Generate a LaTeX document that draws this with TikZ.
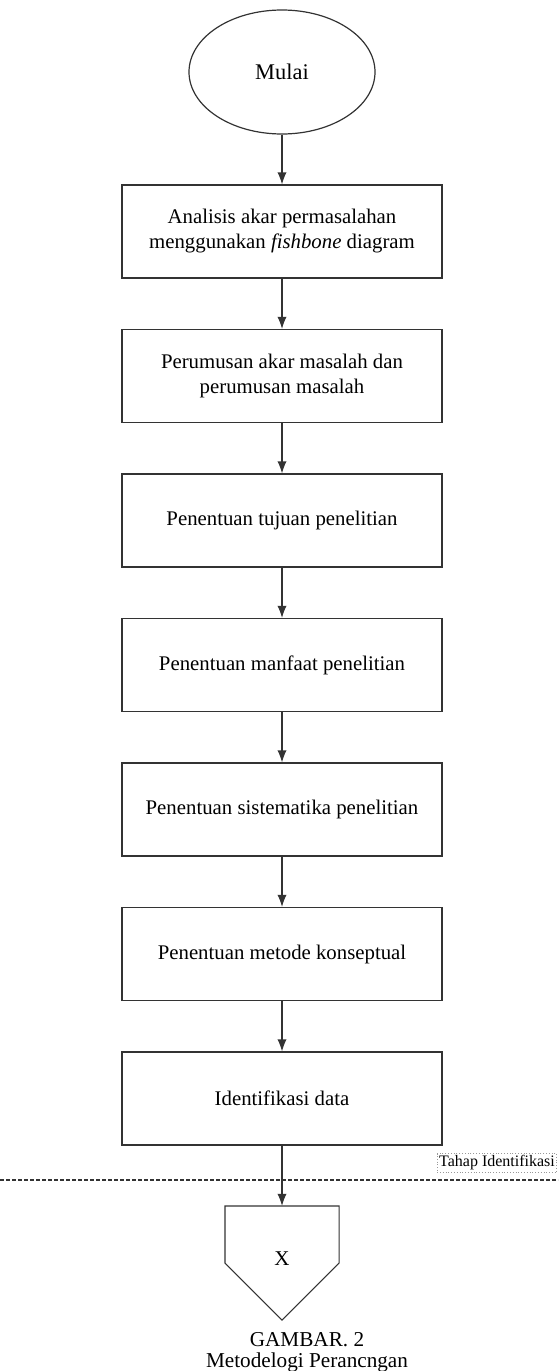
\documentclass[tikz,border=0pt]{standalone}
\usepackage{fontspec}
\setmainfont{Liberation Serif}
\usetikzlibrary{shapes.geometric,arrows.meta}
\begin{document}
\begin{tikzpicture}[x=.5pt, y=-.5pt, >={Latex[length=6pt,width=4.6pt]}, line width=.6pt,
  langkah/.style={draw=black!80, minimum width=160pt, minimum height=46.5pt, inner sep=0pt, align=center, font=\fontsize{10.4}{12.5}\selectfont},
  panah/.style={->, draw=black!80}]
\useasboundingbox (0,0) rectangle (558,1371);
\node[ellipse, draw=black!80, minimum width=93pt, minimum height=62pt, inner sep=0pt, font=\fontsize{11.2}{13}\selectfont] (mulai) at (282,72) {Mulai};
\node[langkah] (analisis) at (282,231.5) {Analisis akar permasalahan\\menggunakan \textit{fishbone} diagram};
\node[langkah] (rumusan) at (282,376) {Perumusan akar masalah dan\\perumusan masalah};
\node[langkah] (tujuan) at (282,520.5) {Penentuan tujuan penelitian};
\node[langkah] (manfaat) at (282,665) {Penentuan manfaat penelitian};
\node[langkah] (sistematika) at (282,809.5) {Penentuan sistematika penelitian};
\node[langkah] (metode) at (282,954) {Penentuan metode konseptual};
\node[langkah] (data) at (282,1098.5) {Identifikasi data};
% penghubung ke halaman berikut
\node[minimum width=56.5pt, minimum height=56.5pt, inner sep=0pt, font=\fontsize{10.5}{12}\selectfont] (lanjut) at (282,1263) {\raisebox{4pt}{X}};
\draw[black!80] (lanjut.north west)--(lanjut.north east)--(lanjut.east)--(lanjut.south)--(lanjut.west)--cycle;
\draw[panah] (mulai)--(analisis);
\draw[panah] (analisis)--(rumusan);
\draw[panah] (rumusan)--(tujuan);
\draw[panah] (tujuan)--(manfaat);
\draw[panah] (manfaat)--(sistematika);
\draw[panah] (sistematika)--(metode);
\draw[panah] (metode)--(data);
\draw[panah] (data)--(lanjut.north);
% batas tahap
\coordinate (batasA) at (0,1180);
\coordinate (batasB) at (558,1180);
\draw[black!80, dash pattern=on 2pt off 1pt] (batasA)--(batasB);
\node[draw=black!40, densely dotted, line width=.4pt, inner sep=1pt, font=\fontsize{8}{9}\selectfont] (tahap) at (497,1163) {Tahap Identifikasi};
% keterangan
\node[anchor=base, font=\fontsize{10.6}{12}\selectfont] (gambar) at (307,1346) {GAMBAR. 2};
\node[anchor=base, font=\fontsize{10.6}{12}\selectfont] (judul) at (307,1367) {Metodelogi Perancngan};
\end{tikzpicture}
\end{document}
